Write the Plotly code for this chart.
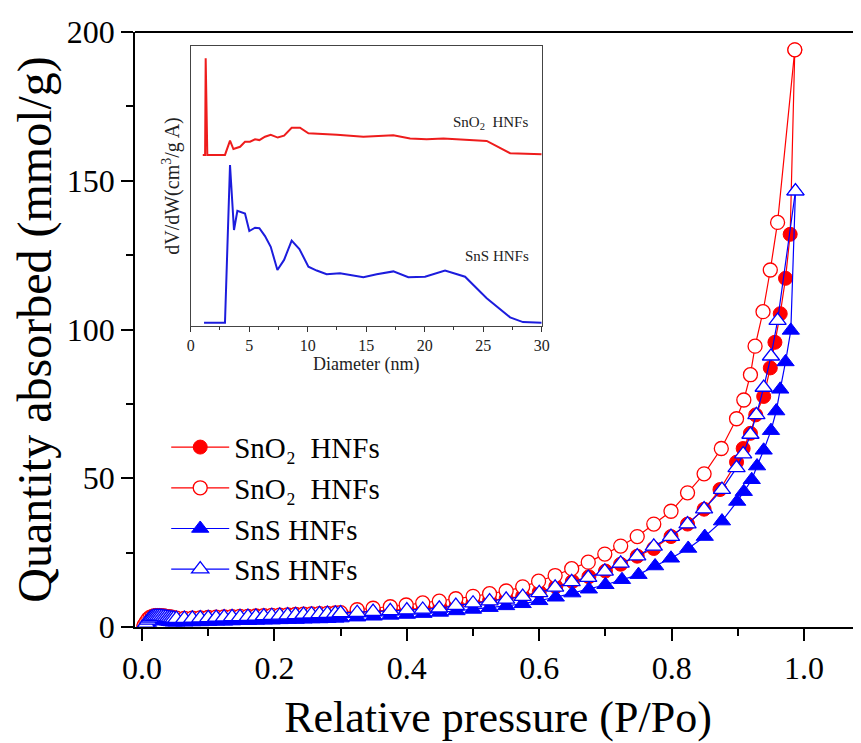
import plotly.graph_objects as go

# ---------------- data ----------------
P_LOW = [0.003, 0.006, 0.009, 0.012, 0.015, 0.018, 0.021, 0.024, 0.027, 0.030,
         0.033, 0.036, 0.039, 0.042, 0.045, 0.048, 0.052, 0.064, 0.076, 0.088,
         0.100, 0.112, 0.124, 0.136, 0.148, 0.160, 0.172, 0.184, 0.196, 0.208,
         0.220, 0.232, 0.244, 0.256, 0.268, 0.280, 0.292, 0.300]

sno2_ads_low = [0.4, 1.4, 2.4, 3.0, 3.3, 3.5, 3.6, 3.6, 3.6, 3.5, 3.5, 3.4, 3.3, 3.2, 3.1, 3.0, 2.9,
                2.8, 2.9, 3.0, 3.1, 3.2, 3.3, 3.3, 3.4, 3.5, 3.5, 3.6, 3.7, 3.8, 3.9, 4.0, 4.0,
                4.1, 4.2, 4.3, 4.4, 4.5]
sno2_des_low = [0.5, 1.6, 2.6, 3.2, 3.5, 3.7, 3.8, 3.8, 3.8, 3.7, 3.7, 3.6, 3.5, 3.4, 3.3, 3.1, 3.0,
                2.9, 3.0, 3.1, 3.2, 3.3, 3.4, 3.5, 3.6, 3.6, 3.7, 3.8, 3.9, 4.0, 4.1, 4.2, 4.3,
                4.4, 4.5, 4.6, 4.7, 4.8]
sns_ads_low = [0.2, 0.8, 1.5, 2.0, 2.3, 2.4, 2.4, 2.4, 2.3, 2.2, 2.1, 2.0, 1.9, 1.8, 1.7, 1.6, 1.6,
               1.6, 1.7, 1.7, 1.8, 1.9, 1.9, 2.0, 2.1, 2.1, 2.2, 2.3, 2.3, 2.4, 2.5, 2.5, 2.6,
               2.7, 2.7, 2.8, 2.9, 3.0]
sns_des_low = [0.3, 1.2, 2.2, 2.9, 3.3, 3.5, 3.6, 3.6, 3.6, 3.5, 3.4, 3.3, 3.2, 3.1, 3.0, 2.9, 2.8,
               2.8, 2.9, 3.0, 3.1, 3.2, 3.3, 3.4, 3.4, 3.5, 3.6, 3.7, 3.8, 3.9, 4.0, 4.1, 4.2,
               4.3, 4.4, 4.5, 4.6, 4.7]

sno2_ads_p = [0.325, 0.35, 0.375, 0.40, 0.425, 0.45, 0.475, 0.50, 0.525, 0.55, 0.575, 0.60,
              0.625, 0.65, 0.675, 0.70, 0.723, 0.748, 0.773, 0.799, 0.824, 0.849, 0.873, 0.898,
              0.908, 0.919, 0.927, 0.939, 0.949, 0.956, 0.964, 0.972, 0.979, 0.986]
sno2_ads_q = [5.0, 5.3, 5.6, 5.9, 6.2, 6.6, 7.4, 8.2, 8.9, 9.5, 10.4, 11.8, 13.6, 15.3, 16.9,
              18.8, 21.1, 23.8, 26.4, 30.4, 34.6, 39.6, 46.2, 55.4, 60.0, 65.1, 71.3, 77.5,
              87.1, 95.7, 105.3, 117.2, 132.0, 194.0]

sno2_des_p = [0.325, 0.349, 0.375, 0.399, 0.424, 0.449, 0.474, 0.50, 0.525, 0.55, 0.575, 0.599,
              0.624, 0.649, 0.674, 0.699, 0.723, 0.748, 0.773, 0.799, 0.824, 0.849, 0.875,
              0.898, 0.909, 0.919, 0.926, 0.938, 0.949, 0.960, 0.986]
sno2_des_q = [5.8, 6.3, 6.8, 7.4, 8.1, 8.7, 9.5, 10.3, 11.2, 12.1, 13.5, 15.4, 17.3, 19.6, 21.8,
              24.5, 27.2, 30.4, 34.6, 38.9, 45.1, 51.5, 60.0, 70.0, 76.3, 84.8, 94.4, 106.0,
              120.0, 136.0, 194.0]

sns_ads_p = [0.325, 0.35, 0.375, 0.40, 0.425, 0.45, 0.475, 0.50, 0.525, 0.55, 0.575, 0.60,
             0.625, 0.65, 0.675, 0.70, 0.725, 0.75, 0.775, 0.799, 0.825, 0.850, 0.876, 0.899,
             0.909, 0.921, 0.929, 0.939, 0.950, 0.958, 0.964, 0.972, 0.980, 0.987]
sns_ads_q = [3.3, 3.6, 3.9, 4.2, 4.5, 4.9, 5.4, 5.9, 6.5, 7.1, 7.8, 8.8, 10.0, 11.4, 12.7, 14.2,
             15.9, 17.6, 20.5, 23.1, 26.4, 30.4, 35.6, 42.2, 45.5, 49.5, 54.1, 59.4, 66.0,
             72.6, 79.9, 89.1, 99.7, 146.5]

sns_des_p = [0.325, 0.349, 0.375, 0.40, 0.424, 0.449, 0.474, 0.50, 0.525, 0.55, 0.575, 0.60,
             0.624, 0.649, 0.674, 0.699, 0.723, 0.748, 0.773, 0.799, 0.824, 0.849, 0.876,
             0.898, 0.908, 0.919, 0.928, 0.939, 0.950, 0.960, 0.987]
sns_des_q = [4.8, 5.2, 5.4, 5.7, 5.9, 6.3, 7.2, 8.0, 8.7, 9.3, 10.2, 11.5, 13.3, 15.2, 16.6,
             18.7, 21.4, 23.8, 27.1, 30.4, 34.6, 39.6, 46.2, 53.5, 58.1, 64.7, 71.3, 80.5,
             91.0, 103.0, 146.5]

# inset: pore size distribution (arbitrary units)
sno2_d = [1.03, 1.23, 1.28, 1.42, 2.93, 3.36, 3.65, 4.22, 4.64, 5.07, 5.50, 5.87, 6.35, 6.84,
          7.44, 7.98, 8.63, 9.34, 10.06, 11.62, 12.5, 14.76, 17.32, 18.75, 20.17, 21.6, 23.3,
          25.3, 27.3, 30.0]
sno2_dv = [61.1, 61.1, 95.6, 61.1, 61.1, 66.2, 63.2, 64.0, 65.8, 65.8, 66.7, 66.4, 67.6, 68.3,
           67.3, 68.0, 70.8, 70.8, 68.8, 68.6, 68.3, 67.6, 68.1, 67.0, 66.7, 67.0, 66.7, 66.1,
           61.7, 61.3]
sns_d = [1.14, 2.93, 3.36, 3.70, 3.99, 4.64, 5.01, 5.50, 5.87, 6.35, 6.84, 7.41, 7.98, 8.63,
         9.29, 10.06, 10.77, 11.62, 12.76, 13.62, 14.76, 15.9, 17.32, 18.6, 20.03, 21.74, 23.45,
         25.3, 27.3, 28.4, 30.0]
sns_dv = [1.2, 1.2, 57.5, 34.3, 41.1, 40.2, 33.9, 35.1, 34.9, 32.1, 28.3, 20.0, 23.6, 30.5,
          27.5, 21.2, 19.8, 18.5, 18.8, 18.2, 17.4, 18.5, 19.5, 17.4, 17.6, 19.8, 17.6, 9.9,
          3.1, 1.4, 1.2]

X_TICKS = [0.0, 0.2, 0.4, 0.6, 0.8, 1.0]
Y_TICKS = [0, 50, 100, 150, 200]
INSET_TICKS = [0, 5, 10, 15, 20, 25, 30]
LEGEND_NAMES = ["SnO\u2082\u00a0 HNFs", "SnO\u2082\u00a0 HNFs", "SnS HNFs", "SnS HNFs"]

RED = "#ff0000"
BLUE = "#0000ff"
FONT = "Liberation Serif"

fig = go.Figure()

fig.add_trace(go.Scatter(
    x=P_LOW + sno2_ads_p, y=sno2_ads_low + sno2_ads_q, mode="lines+markers",
    name=LEGEND_NAMES[0], line=dict(color=RED, width=1.2),
    marker=dict(symbol="circle", size=14, color=RED, line=dict(color=RED, width=1))))
fig.add_trace(go.Scatter(
    x=P_LOW + sno2_des_p, y=sno2_des_low + sno2_des_q, mode="lines+markers",
    name=LEGEND_NAMES[1], line=dict(color=RED, width=1.2),
    marker=dict(symbol="circle", size=14, color="white", line=dict(color=RED, width=1.3))))
fig.add_trace(go.Scatter(
    x=P_LOW + sns_ads_p, y=sns_ads_low + sns_ads_q, mode="lines+markers",
    name=LEGEND_NAMES[2], line=dict(color=BLUE, width=1.2),
    marker=dict(symbol="triangle-up", size=15, color=BLUE, line=dict(color=BLUE, width=1))))
fig.add_trace(go.Scatter(
    x=P_LOW + sns_des_p, y=sns_des_low + sns_des_q, mode="lines+markers",
    name=LEGEND_NAMES[3], line=dict(color=BLUE, width=1.2),
    marker=dict(symbol="triangle-up", size=15, color="white", line=dict(color=BLUE, width=1.3))))

# inset
fig.add_trace(go.Scatter(x=sno2_d, y=sno2_dv, mode="lines", xaxis="x2", yaxis="y2",
                         line=dict(color="#ee1c1c", width=2), showlegend=False))
fig.add_trace(go.Scatter(x=sns_d, y=sns_dv, mode="lines", xaxis="x2", yaxis="y2",
                         line=dict(color="#1c1cdd", width=2), showlegend=False))

# The page body adds an 8 px offset; figure size/margins compensate for it.
OFF = 8
W, H = 861 - OFF, 743 - OFF
PX_L, PX_R, PX_T, PX_B = 135, 861, 32, 627   # target plot-area edges in the window
L, R, T, B = PX_L - OFF, 0, PX_T - OFF, H - (PX_B - OFF)
PW, PH = PX_R - PX_L, PX_B - PX_T

fig.update_layout(
    width=W, height=H,
    margin=dict(l=L, r=R, t=T, b=B, autoexpand=False),
    paper_bgcolor="white", plot_bgcolor="white",
    font=dict(family=FONT, color="black"),
    xaxis=dict(
        range=[-0.0106, 1.086], domain=[0, 1],
        tickvals=X_TICKS, ticktext=[f"{v:.1f}" for v in X_TICKS],
        ticks="outside", ticklen=12, tickwidth=1.5, tickcolor="black",
        minor=dict(dtick=0.1, tick0=0, ticks="outside", ticklen=7, tickwidth=1.5, tickcolor="black"),
        showline=True, linecolor="black", linewidth=1.8, mirror=False,
        showgrid=False, zeroline=False, automargin=False,
        tickfont=dict(size=32, family=FONT),
        title=dict(text="Relative pressure (P/Po)", font=dict(size=44, family=FONT), standoff=16),
    ),
    yaxis=dict(
        range=[0, 200], domain=[0, 1],
        tickvals=Y_TICKS,
        ticks="outside", ticklen=12, tickwidth=1.5, tickcolor="black",
        minor=dict(dtick=25, tick0=0, ticks="outside", ticklen=7, tickwidth=1.5, tickcolor="black"),
        showline=True, linecolor="black", linewidth=1.8, mirror=False,
        showgrid=False, zeroline=False, automargin=False,
        tickfont=dict(size=32, family=FONT),
        title=dict(text="Quantity absorbed (mmol/g)", font=dict(size=48, family=FONT), standoff=4),
    ),
    xaxis2=dict(
        domain=[(190.7 - PX_L) / PW, (541.7 - PX_L) / PW], anchor="y2",
        range=[0, 30], tickvals=INSET_TICKS,
        ticks="outside", ticklen=5, tickwidth=1, tickcolor="#333",
        minor=dict(dtick=2.5, tick0=0, ticks="outside", ticklen=3, tickcolor="#333"),
        showline=True, linecolor="#444", linewidth=1.2, mirror=True,
        showgrid=False, zeroline=False,
        tickfont=dict(size=16, family=FONT, color="#222"),
        title=dict(text="Diameter (nm)", font=dict(size=18, family=FONT, color="#222"), standoff=2),
    ),
    yaxis2=dict(
        domain=[(PX_B - 326) / PH, (PX_B - 46) / PH], anchor="x2",
        range=[0, 100], showticklabels=False, ticks="",
        showline=True, linecolor="#444", linewidth=1.2, mirror=True,
        showgrid=False, zeroline=False,
        title=dict(text="dV/dW(cm<sup>3</sup>/g A)", font=dict(size=20, family=FONT, color="#222"), standoff=4),
    ),
    legend=dict(
        x=0.043, y=0.345, xanchor="left", yanchor="top",
        bgcolor="rgba(0,0,0,0)", font=dict(size=29, family=FONT, color="black"),
        itemwidth=58, tracegroupgap=0,
    ),
    showlegend=True,
)

# top frame line of main plot
fig.add_shape(type="line", xref="paper", yref="paper", x0=0, x1=1, y0=1, y1=1,
              line=dict(color="black", width=1.8))

fig.add_annotation(x=25.6, y=72.6, xref="x2", yref="y2", text="SnO<sub>2</sub>  HNFs",
                   showarrow=False, font=dict(size=15, family=FONT, color="#222"))
fig.add_annotation(x=26.2, y=25, xref="x2", yref="y2", text="SnS HNFs",
                   showarrow=False, font=dict(size=15, family=FONT, color="#222"))

fig.write_html("out.html")
